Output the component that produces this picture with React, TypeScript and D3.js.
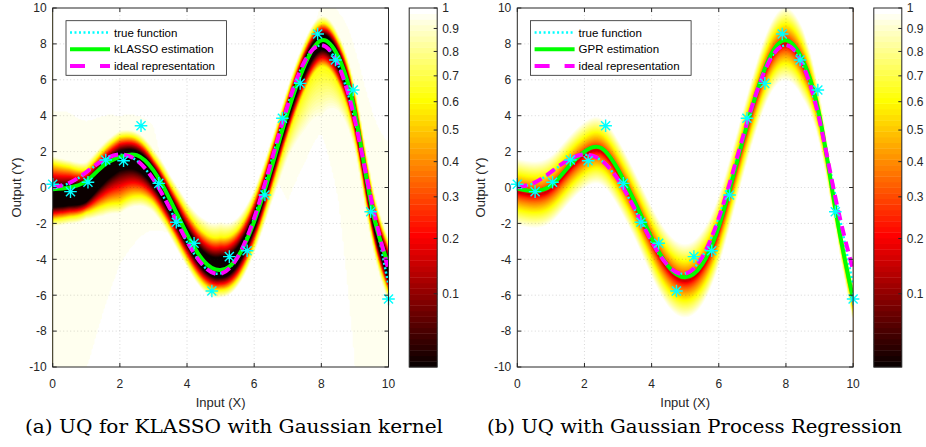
import * as d3 from "d3";
import { useMemo } from "react";

// knots of the curves, read every 0.5 along the input axis
const KNOT_X = [0, 0.5, 1, 1.5, 2, 2.5, 3, 3.5, 4, 4.5, 5, 5.5, 6, 6.5, 7, 7.5, 8, 8.5, 9, 9.5, 10];

// observed samples (stars)
const OBS_X = [0, 0.53, 1.05, 1.58, 2.11, 2.63, 3.16, 3.68, 4.21, 4.74, 5.26, 5.79, 6.32, 6.84, 7.37, 7.89, 8.42, 8.95, 9.47, 10];
const OBS_Y = [0.18, -0.23, 0.29, 1.53, 1.49, 3.44, 0.23, -1.94, -3.11, -5.77, -3.85, -3.52, -0.42, 3.86, 5.8, 8.55, 7.1, 5.43, -1.35, -6.21];

// curves
const TRUE_Y = [0, 0.24, 0.84, 1.5, 1.82, 1.5, 0.42, -1.23, -3.03, -4.4, -4.79, -3.88, -1.68, 1.4, 4.6, 7.03, 7.91, 6.83, 3.71, -0.72, -5.44];
const IDEAL_Y = [0.02, 0.26, 0.86, 1.52, 1.84, 1.52, 0.45, -1.2, -3.0, -4.38, -4.8, -3.9, -1.7, 1.38, 4.58, 7.02, 7.93, 6.85, 3.75, -0.8, -4.6];
const KLASSO_Y = [-0.1, 0.0, 0.35, 1.2, 1.7, 1.8, 0.95, -0.7, -2.6, -4.1, -4.6, -3.9, -1.9, 1.0, 4.2, 6.8, 8.2, 7.3, 4.2, -1.1, -4.3];
const GPR_Y = [-0.05, -0.2, 0.1, 1.1, 2.0, 2.2, 1.0, -0.8, -2.8, -4.4, -5.0, -4.3, -2.2, 1.1, 4.5, 7.2, 8.2, 7.1, 4.0, -1.5, -6.2];

// kLASSO uncertainty band (distances in output units)
const KL_SHIFT = [-0.45, -0.45, -0.6, -0.45, -0.2, -0.3, -0.37, -0.3, -0.15, 0, 0.15, 0.05, 0, 0, -0.1, -0.1, -0.12, -0.2, -0.2, -0.2, -0.3];
const KL_CORE = [0.55, 0.55, 0.55, 0.55, 0.52, 0.52, 0.53, 0.5, 0.45, 0.5, 0.57, 0.5, 0.45, 0.45, 0.45, 0.45, 0.42, 0.45, 0.45, 0.5, 0.6];
const KL_YELLOW_UP = [1.9, 1.6, 1.25, 1.3, 1.33, 1.25, 1.12, 1.2, 1.4, 1.6, 1.7, 1.5, 1.3, 1.2, 1.15, 1.1, 1.07, 1.1, 1.2, 1.3, 1.4];
const KL_YELLOW_DN = [1.25, 1.2, 1.15, 1.8, 2.4, 2.0, 1.45, 1.3, 1.3, 1.3, 1.27, 1.3, 1.3, 1.3, 1.3, 1.35, 1.35, 1.35, 1.3, 1.3, 1.3];
const KL_WHITE_UP = [2.3, 2.0, 1.7, 1.7, 1.7, 1.6, 1.6, 1.7, 2.0, 2.4, 2.6, 2.2, 1.8, 1.6, 1.5, 1.5, 1.5, 1.5, 1.6, 1.7, 1.8];
const KL_WHITE_DN = [1.65, 1.6, 1.55, 2.4, 3.0, 2.6, 2.0, 1.8, 1.7, 1.7, 1.7, 1.7, 1.8, 2.0, 2.6, 3.8, 4.5, 3.0, 2.0, 1.8, 1.8];
const KL_FAINT_UP = [4.4, 4.2, 3.35, 2.8, 2.3, 2.2, 2.5, 0, 0, 0, 0, 0, 0, 0, 0, 0, 2.0, 2.5, 3.5, 5.5, 6.8];
const KL_FAINT_DN = [10.2, 10.2, 10.5, 8.2, 6.0, 4.8, 3.35, 1.9, 0, 0, 0, 0, 0, 0, 5.0, 5.5, 5.2, 8.0, 14.2, 9.0, 5.7];

// GPR spread
const GPR_SPREAD = [1.9, 1.9, 1.9, 1.9, 1.9, 1.9, 1.9, 1.9, 2.0, 2.1, 2.1, 2.1, 2.0, 1.9, 1.9, 2.0, 2.1, 2.0, 1.4, 0.8, 1.1];
const GPR_SHIFT = -0.2;

const X_TICKS = [0, 2, 4, 6, 8, 10];
const Y_TICKS = [-10, -8, -6, -4, -2, 0, 2, 4, 6, 8, 10];
const CBAR_TICKS = [0.1, 0.2, 0.3, 0.4, 0.5, 0.6, 0.7, 0.8, 0.9, 1];
const CBAR_POS = [0.204, 0.358, 0.474, 0.572, 0.66, 0.739, 0.811, 0.879, 0.943, 1];

const PY = 8;
const PH = 359;
const PW = 335.8;
const NX = 224;
const NY = 240;
const FONT = "'Liberation Sans', Arial, Helvetica, sans-serif";
const SERIF = "'DejaVu Serif', 'Liberation Serif', serif";
const AXC = "#262626";

function hotColor(k: number) {
  const i = k + 1;
  const r = Math.min(1, i / 24);
  const g = Math.max(0, Math.min(1, (i - 24) / 24));
  const b = Math.max(0, Math.min(1, (i - 48) / 16));
  return d3.rgb(r * 255, g * 255, b * 255).formatHex();
}

function naturalSpline(xs: number[], ys: number[]) {
  const n = xs.length;
  const h = xs[1] - xs[0];
  const m = n - 2;
  const cp: number[] = [];
  const dp: number[] = [];
  for (let i = 0; i < m; i++) {
    const rhs = (6 / (h * h)) * (ys[i + 2] - 2 * ys[i + 1] + ys[i]);
    if (i === 0) {
      cp[0] = 0.25;
      dp[0] = rhs / 4;
    } else {
      const den = 4 - cp[i - 1];
      cp[i] = 1 / den;
      dp[i] = (rhs - dp[i - 1]) / den;
    }
  }
  const M = new Array(n).fill(0);
  for (let i = m - 1; i >= 0; i--) M[i + 1] = dp[i] - cp[i] * M[i + 2];
  return (x: number) => {
    let k = Math.floor((x - xs[0]) / h);
    k = Math.max(0, Math.min(n - 2, k));
    const t = x - xs[k];
    const u = xs[k + 1] - x;
    return (M[k] * u * u * u + M[k + 1] * t * t * t) / (6 * h) + (ys[k] / h - (M[k] * h) / 6) * u + (ys[k + 1] / h - (M[k + 1] * h) / 6) * t;
  };
}

const lin = (arr: number[]) => d3.scaleLinear().domain(KNOT_X).range(arr).clamp(true);

function klassoField() {
  const est = naturalSpline(KNOT_X, KLASSO_Y);
  const shift = lin(KL_SHIFT), core = lin(KL_CORE);
  const yu = lin(KL_YELLOW_UP), yd = lin(KL_YELLOW_DN);
  const wu = lin(KL_WHITE_UP), wd = lin(KL_WHITE_DN);
  const fu = lin(KL_FAINT_UP), fd = lin(KL_FAINT_DN);
  return (x: number, y: number) => {
    const g = est(x);
    const s = y - (g + shift(x));
    const a = Math.abs(s);
    const cw = core(x);
    let t: number;
    if (a < cw) t = 0;
    else {
      const e1 = s > 0 ? yu(x) : yd(x);
      const e2 = s > 0 ? wu(x) : wd(x);
      if (a < e1) t = (0.75 * (a - cw)) / (e1 - cw);
      else t = Math.min(1, 0.75 + (0.25 * (a - e1)) / Math.max(0.05, e2 - e1));
    }
    const inFaint = s > 0 ? y - g < fu(x) : g - y < fd(x);
    if (inFaint) t = Math.min(t, 0.975);
    return t;
  };
}

function gprField() {
  const est = naturalSpline(KNOT_X, GPR_Y);
  const spread = lin(GPR_SPREAD);
  return (x: number, y: number) => {
    const u = Math.abs(y - (est(x) + GPR_SHIFT)) / spread(x);
    return Math.min(1, 0.25 + 0.75 * Math.pow(u, 0.65));
  };
}

function Star({ cx, cy }: { cx: number; cy: number }) {
  const r = 6.3;
  const d = r * 0.72;
  return (
    <path
      d={`M${cx - r},${cy}L${cx + r},${cy}M${cx},${cy - r}L${cx},${cy + r}M${cx - d},${cy - d}L${cx + d},${cy + d}M${cx - d},${cy + d}L${cx + d},${cy - d}`}
      stroke="#00ffff"
      strokeWidth={1.4}
      fill="none"
    />
  );
}

type PanelProps = {
  id: string;
  ox: number;
  estimate: number[];
  estLabel: string;
  field: (x: number, y: number) => number;
  caption: string;
  captionX: number;
  captionW: number;
};

function Panel({ id, ox, estimate, estLabel, field, caption, captionX, captionW }: PanelProps) {
  const x = d3.scaleLinear().domain([0, 10]).range([ox, ox + PW]);
  const y = d3.scaleLinear().domain([-10, 10]).range([PY + PH, PY]);
  const cb = d3.scaleLinear().domain([0, 1]).range([PY + PH, PY]);
  const cbX = ox + 356.5;
  const cbW = 28;

  const layers = useMemo(() => {
    const values = new Float64Array(NX * NY);
    for (let j = 0; j < NY; j++) {
      const yy = 10 - ((j + 0.5) / NY) * 20;
      for (let i = 0; i < NX; i++) {
        const xx = ((i + 0.5) / NX) * 10;
        values[j * NX + i] = field(xx, yy);
      }
    }
    const th = d3.range(1, 64).map((k) => k / 64);
    const contours = d3.contours().size([NX, NY]).thresholds(th)(values as unknown as number[]);
    const path = d3.geoPath();
    return contours.map((c, i) => ({ d: path(c) || "", color: hotColor(i + 1) }));
  }, [field]);

  const line = d3
    .line<number>()
    .x((_, i) => x(KNOT_X[i]))
    .y((v) => y(v))
    .curve(d3.curveNatural);

  const legendX = ox + 13.3;
  const legendY = 20.7;
  const rows = [
    { label: "true function", color: "#00ffff", width: 2.5, dash: "2 2.5" },
    { label: estLabel, color: "#00ff00", width: 4, dash: undefined },
    { label: "ideal representation", color: "#ff00ff", width: 4, dash: "15 15" },
  ];

  return (
    <g>
      <defs>
        <clipPath id={`clip-${id}`}>
          <rect x={ox} y={PY} width={PW} height={PH} />
        </clipPath>
      </defs>
      <g clipPath={`url(#clip-${id})`}>
        <rect x={ox} y={PY} width={PW} height={PH} fill={hotColor(0)} />
        <g transform={`translate(${ox},${PY}) scale(${PW / NX},${PH / NY})`}>
          {layers.map((l, i) => (
            <path key={i} d={l.d} fill={l.color} />
          ))}
        </g>
        {/* grid */}
        {X_TICKS.slice(1, -1).map((t) => (
          <line key={`gx${t}`} x1={x(t)} x2={x(t)} y1={PY} y2={PY + PH} stroke={AXC} strokeOpacity={0.18} strokeDasharray="1 2.5" />
        ))}
        {Y_TICKS.slice(1, -1).map((t) => (
          <line key={`gy${t}`} x1={ox} x2={ox + PW} y1={y(t)} y2={y(t)} stroke={AXC} strokeOpacity={0.18} strokeDasharray="1 2.5" />
        ))}
        <path d={line(TRUE_Y) || ""} fill="none" stroke="#00ffff" strokeWidth={2.5} strokeDasharray="2 2.5" />
        <path d={line(estimate) || ""} fill="none" stroke="#00ff00" strokeWidth={4} />
        <path d={line(IDEAL_Y) || ""} fill="none" stroke="#ff00ff" strokeWidth={4} strokeDasharray="10 6" />
      </g>
      {OBS_X.map((v, i) => (
        <Star key={i} cx={x(v)} cy={y(OBS_Y[i])} />
      ))}

      {/* axes box */}
      <rect x={ox} y={PY} width={PW} height={PH} fill="none" stroke={AXC} strokeWidth={1} />
      {X_TICKS.map((t) => (
        <g key={`xt${t}`}>
          <line x1={x(t)} x2={x(t)} y1={PY + PH} y2={PY + PH - 4} stroke={AXC} />
          <line x1={x(t)} x2={x(t)} y1={PY} y2={PY + 4} stroke={AXC} />
          <text x={x(t)} y={388} textAnchor="middle" fontSize={12} fontFamily={FONT} fill={AXC}>
            {t}
          </text>
        </g>
      ))}
      {Y_TICKS.map((t) => (
        <g key={`yt${t}`}>
          <line x1={ox} x2={ox + 4} y1={y(t)} y2={y(t)} stroke={AXC} />
          <line x1={ox + PW} x2={ox + PW - 4} y1={y(t)} y2={y(t)} stroke={AXC} />
          <text x={ox - 6} y={y(t)} dy="0.36em" textAnchor="end" fontSize={12} fontFamily={FONT} fill={AXC}>
            {t}
          </text>
        </g>
      ))}
      <text x={ox + PW / 2} y={407} textAnchor="middle" fontSize={13} fontFamily={FONT} fill={AXC}>
        Input (X)
      </text>
      <text
        transform={`translate(${ox - 32},${PY + PH / 2}) rotate(-90)`}
        textAnchor="middle"
        fontSize={13}
        fontFamily={FONT}
        fill={AXC}
      >
        Output (Y)
      </text>

      {/* legend */}
      <rect x={legendX} y={legendY} width={160.5} height={54.6} fill="#ffffff" stroke={AXC} strokeWidth={0.8} />
      {rows.map((r, i) => {
        const ry = legendY + 11.8 + i * 16.7;
        return (
          <g key={r.label}>
            <line x1={legendX + 4} x2={legendX + 44} y1={ry} y2={ry} stroke={r.color} strokeWidth={r.width} strokeDasharray={r.dash} />
            <text x={legendX + 48} y={ry} dy="0.36em" fontSize={11.5} fontFamily={FONT} fill="#000">
              {r.label}
            </text>
          </g>
        );
      })}

      {/* colorbar */}
      {d3.range(64).map((k) => (
        <rect key={`cb${k}`} x={cbX} y={cb((k + 1) / 64)} width={cbW} height={PH / 64 + 0.4} fill={hotColor(k)} />
      ))}
      <rect x={cbX} y={PY} width={cbW} height={PH} fill="none" stroke={AXC} strokeWidth={1} />
      {CBAR_TICKS.map((t, i) => (
        <g key={`cbt${t}`}>
          <line x1={cbX + cbW} x2={cbX + cbW - 3.5} y1={cb(CBAR_POS[i])} y2={cb(CBAR_POS[i])} stroke={AXC} />
          <text x={cbX + cbW + 5} y={cb(CBAR_POS[i])} dy="0.36em" fontSize={12} fontFamily={FONT} fill={AXC}>
            {t}
          </text>
        </g>
      ))}

      <text
        x={captionX}
        y={433}
        fontSize={18.5}
        fontFamily={SERIF}
        fill="#000"
        textLength={captionW}
        lengthAdjust="spacingAndGlyphs"
      >
        {caption}
      </text>
    </g>
  );
}

const kField = klassoField();
const gField = gprField();

export default function App() {
  return (
    <svg
      width={926}
      height={447}
      viewBox="0 0 926 447"
      style={{ position: "absolute", left: 0, top: 0, background: "#ffffff" }}
    >
      <rect width={926} height={447} fill="#ffffff" />
      <Panel
        id="a"
        ox={52.7}
        estimate={KLASSO_Y}
        estLabel="kLASSO estimation"
        field={kField}
        caption="(a) UQ for KLASSO with Gaussian kernel"
        captionX={25}
        captionW={418}
      />
      <Panel
        id="b"
        ox={517.3}
        estimate={GPR_Y}
        estLabel="GPR estimation"
        field={gField}
        caption="(b) UQ with Gaussian Process Regression"
        captionX={487}
        captionW={415}
      />
    </svg>
  );
}
